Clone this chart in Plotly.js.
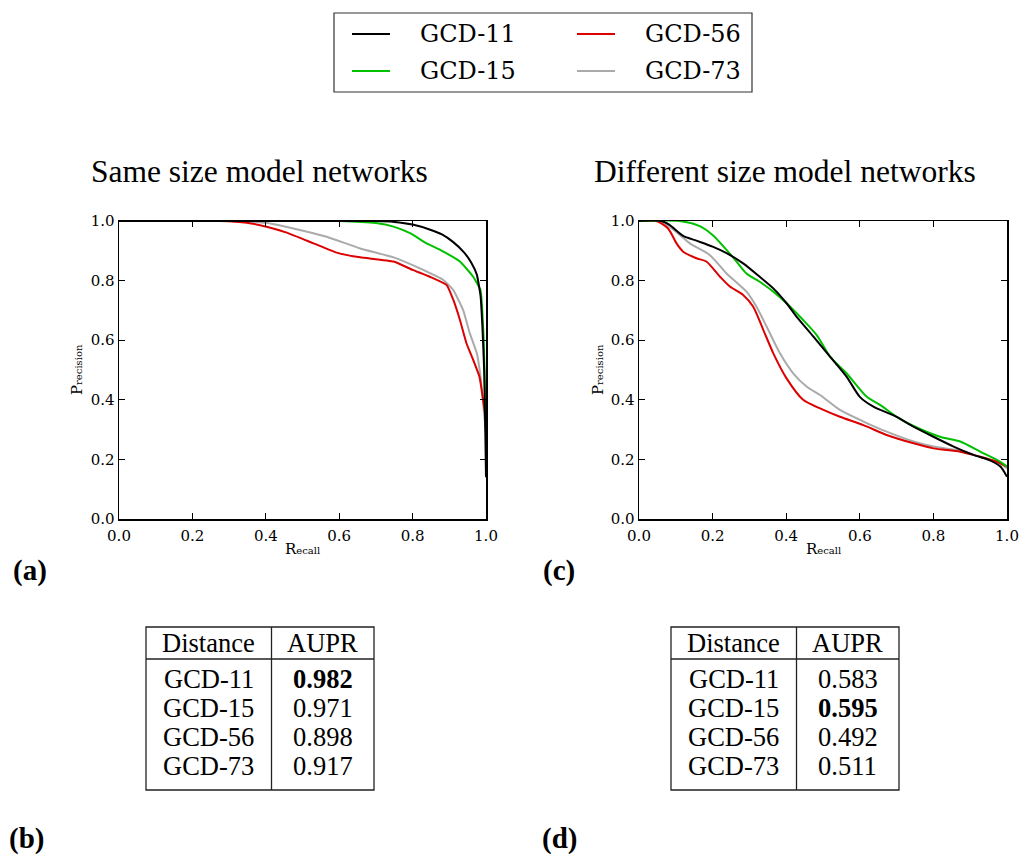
<!DOCTYPE html>
<html>
<head>
<meta charset="utf-8">
<script src="https://cdn.plot.ly/plotly-3.0.1.min.js"></script>
<style>html,body{margin:0;padding:0;background:#fff;}</style>
</head>
<body>
<div id="chart" style="width:1019px;height:860px;"></div>
<script>
// Series names and colours
const seriesNames = ['GCD-11', 'GCD-15', 'GCD-56', 'GCD-73'];
const seriesColors = ['#000000', '#00c000', '#dd0000', '#aaaaaa'];

// Precision-recall curves, same size model networks
const sameR11 = [0, 0.70, 0.75, 0.80, 0.85, 0.88, 0.91, 0.94, 0.96, 0.975, 0.985, 0.99, 0.995, 0.998, 1.0];
const sameP11 = [1, 1.0, 0.997, 0.988, 0.970, 0.955, 0.93, 0.895, 0.86, 0.82, 0.75, 0.65, 0.5, 0.3, 0.14];
const sameR15 = [0, 0.60, 0.70, 0.748, 0.793, 0.838, 0.875, 0.929, 0.965, 0.985, 0.993, 0.997, 1.0];
const sameP15 = [1, 1.0, 0.993, 0.981, 0.959, 0.925, 0.903, 0.864, 0.813, 0.768, 0.623, 0.45, 0.3];
const sameR56 = [0, 0.275, 0.348, 0.402, 0.457, 0.53, 0.593, 0.657, 0.748, 0.80, 0.847, 0.893, 0.911, 0.929, 0.947, 0.965, 0.982, 0.991, 0.997, 1.0];
const sameP56 = [1, 1.0, 0.994, 0.981, 0.961, 0.925, 0.894, 0.878, 0.864, 0.836, 0.813, 0.785, 0.735, 0.668, 0.589, 0.534, 0.478, 0.41, 0.355, 0.29];
const sameR73 = [0, 0.30, 0.40, 0.475, 0.566, 0.657, 0.748, 0.82, 0.884, 0.911, 0.938, 0.956, 0.975, 0.985, 0.993, 1.0];
const sameP73 = [1, 1.0, 0.994, 0.975, 0.947, 0.908, 0.878, 0.841, 0.802, 0.768, 0.70, 0.623, 0.556, 0.478, 0.377, 0.287];

// Precision-recall curves, different size model networks
const diffR11 = [0, 0.061, 0.083, 0.12, 0.156, 0.2, 0.238, 0.283, 0.328, 0.365, 0.401, 0.428, 0.474, 0.519, 0.564, 0.6, 0.637, 0.70, 0.746, 0.80, 0.855, 0.909, 0.955, 0.982, 1.0];
const diffP11 = [1, 1.0, 0.987, 0.95, 0.934, 0.914, 0.892, 0.858, 0.813, 0.774, 0.724, 0.679, 0.612, 0.545, 0.478, 0.41, 0.377, 0.343, 0.31, 0.276, 0.243, 0.215, 0.196, 0.176, 0.142];
const diffR15 = [0, 0.11, 0.165, 0.2, 0.238, 0.265, 0.292, 0.328, 0.365, 0.401, 0.446, 0.483, 0.519, 0.564, 0.619, 0.655, 0.70, 0.746, 0.818, 0.873, 0.927, 0.982, 1.0];
const diffP15 = [1, 1.0, 0.983, 0.953, 0.903, 0.864, 0.824, 0.796, 0.763, 0.724, 0.668, 0.617, 0.545, 0.489, 0.41, 0.383, 0.343, 0.312, 0.276, 0.26, 0.226, 0.192, 0.176];
const diffR56 = [0, 0.047, 0.079, 0.102, 0.12, 0.156, 0.183, 0.22, 0.247, 0.283, 0.31, 0.338, 0.365, 0.401, 0.446, 0.492, 0.546, 0.61, 0.673, 0.746, 0.80, 0.873, 0.927, 0.973, 1.0];
const diffP56 = [1, 1.0, 0.975, 0.925, 0.897, 0.875, 0.864, 0.813, 0.78, 0.752, 0.713, 0.634, 0.556, 0.472, 0.4, 0.371, 0.343, 0.315, 0.282, 0.254, 0.237, 0.226, 0.209, 0.192, 0.176];
const diffR73 = [0, 0.056, 0.083, 0.111, 0.138, 0.192, 0.238, 0.292, 0.319, 0.347, 0.383, 0.419, 0.456, 0.492, 0.546, 0.61, 0.673, 0.746, 0.80, 0.873, 0.927, 0.973, 1.0];
const diffP73 = [1, 1.0, 0.981, 0.953, 0.925, 0.886, 0.824, 0.763, 0.713, 0.645, 0.556, 0.489, 0.444, 0.416, 0.366, 0.327, 0.293, 0.26, 0.243, 0.229, 0.209, 0.192, 0.17];

// Area under the precision-recall curve
const tableHeader = ['Distance', 'AUPR'];
const auprSame = [0.982, 0.971, 0.898, 0.917];
const auprDiff = [0.583, 0.595, 0.492, 0.511];

// Axis ticks
const tickVals = [0, 0.2, 0.4, 0.6, 0.8, 1.0];
const tickText = ['0.0', '0.2', '0.4', '0.6', '0.8', '1.0'];

// Panel labels and titles
const panelTitles = ['Same size model networks', 'Different size model networks'];
const panelLabels = ['(a)', '(b)', '(c)', '(d)'];

const W = 1019, H = 860;
const px = x => x / W;
const py = y => 1 - y / H;

const TIMES = "'Liberation Serif', 'Times New Roman', Times, serif";
const CMLIKE = "'DejaVu Serif', serif";

const sameCurves = [[sameR11, sameP11], [sameR15, sameP15], [sameR56, sameP56], [sameR73, sameP73]];
const diffCurves = [[diffR11, diffP11], [diffR15, diffP15], [diffR56, diffP56], [diffR73, diffP73]];
// draw order: grey and red underneath, then green and black
const drawOrder = [3, 2, 1, 0];

const traces = [];
drawOrder.forEach(i => {
  traces.push({x: sameCurves[i][0], y: sameCurves[i][1], xaxis: 'x', yaxis: 'y', mode: 'lines',
    name: seriesNames[i], line: {color: seriesColors[i], width: 2, shape: 'spline', smoothing: 0.4},
    showlegend: false, hoverinfo: 'skip', cliponaxis: true});
});
drawOrder.forEach(i => {
  traces.push({x: diffCurves[i][0], y: diffCurves[i][1], xaxis: 'x2', yaxis: 'y2', mode: 'lines',
    name: seriesNames[i], line: {color: seriesColors[i], width: 2, shape: 'spline', smoothing: 0.7},
    showlegend: false, hoverinfo: 'skip', cliponaxis: true});
});

const tickFont = {family: CMLIKE, size: 15, color: '#000'};
function axis(domain, anchor) {
  return {
    domain: domain, anchor: anchor, range: [0, 1], autorange: false,
    tickmode: 'array', tickvals: tickVals, ticktext: tickText,
    ticks: 'inside', ticklen: 6, tickwidth: 1, tickcolor: '#000',
    showline: true, linecolor: '#000', linewidth: 1.5, mirror: 'allticks',
    showgrid: false, zeroline: false, tickfont: tickFont, fixedrange: true
  };
}

const yDom = [py(519), py(221)];
const layout = {
  width: W, height: H,
  margin: {l: 0, r: 0, t: 0, b: 0},
  paper_bgcolor: '#fff', plot_bgcolor: '#fff',
  showlegend: false,
  font: {family: CMLIKE, color: '#000'},
  xaxis: axis([px(119), px(486)], 'y'),
  yaxis: axis(yDom, 'x'),
  xaxis2: axis([px(639), px(1007)], 'y2'),
  yaxis2: axis(yDom, 'x2'),
  shapes: [], annotations: []
};
layout.xaxis.ticklabelstandoff = 2;
layout.xaxis2.ticklabelstandoff = 2;

const ann = (text, x, y, opts) => Object.assign({
  text: text, x: px(x), y: py(y), xref: 'paper', yref: 'paper',
  showarrow: false, xanchor: 'center', yanchor: 'middle'
}, opts || {});

// Panel titles
const titleFont = {family: TIMES, size: 31.5, color: '#000'};
layout.annotations.push(ann(panelTitles[0], 89, 172, {xanchor: 'left', font: titleFont}));
layout.annotations.push(ann(panelTitles[1], 592, 172, {xanchor: 'left', font: titleFont}));

// Axis titles (small-caps style)
const recallText = 'R<span style="font-size:10px">ecall</span>';
const precText = 'P<span style="font-size:10px">recision</span>';
const labFont = {family: CMLIKE, size: 15, color: '#000'};
[[302.5, 77], [823, 598]].forEach(([cx, yx]) => {
  layout.annotations.push(ann(recallText, cx, 549, {font: labFont}));
  layout.annotations.push(ann(precText, yx, 370, {font: labFont, textangle: -90}));
});

// Panel letters
const letterFont = {family: TIMES, size: 29, color: '#000', weight: 'bold'};
[[11, 570], [7, 838], [541, 570], [540, 838]].forEach(([x, y], i) => {
  layout.annotations.push(ann('<b>' + panelLabels[i] + '</b>', x, y, {xanchor: 'left', font: letterFont}));
});

// Legend box
const legFont = {family: CMLIKE, size: 24, color: '#000'};
layout.shapes.push({type: 'rect', xref: 'paper', yref: 'paper', x0: px(334), x1: px(752), y0: py(13), y1: py(92),
  line: {color: '#333', width: 1.2}, fillcolor: 'rgba(0,0,0,0)'});
const legendSlots = [[352, 34], [352, 71], [577, 34], [577, 71]];
seriesNames.forEach((name, i) => {
  const [lx, ly] = legendSlots[i];
  layout.shapes.push({type: 'line', xref: 'paper', yref: 'paper', x0: px(lx), x1: px(lx + 38), y0: py(ly), y1: py(ly),
    line: {color: seriesColors[i], width: 2}});
  layout.annotations.push(ann(name, lx + 66, ly, {xanchor: 'left', font: legFont}));
});

// AUPR tables
const tabFont = {family: TIMES, size: 26.5, color: '#000'};
function addTable(left, values) {
  const right = left + 228, mid = left + 125.5, top = 627, bottom = 790, sep = 659;
  const lineStyle = {color: '#222', width: 1.3};
  layout.shapes.push({type: 'rect', xref: 'paper', yref: 'paper', x0: px(left), x1: px(right), y0: py(bottom), y1: py(top),
    line: lineStyle, fillcolor: 'rgba(0,0,0,0)'});
  layout.shapes.push({type: 'line', xref: 'paper', yref: 'paper', x0: px(mid), x1: px(mid), y0: py(bottom), y1: py(top), line: lineStyle});
  layout.shapes.push({type: 'line', xref: 'paper', yref: 'paper', x0: px(left), x1: px(right), y0: py(sep), y1: py(sep), line: lineStyle});
  const c1 = (left + mid) / 2, c2 = (mid + right) / 2;
  layout.annotations.push(ann(tableHeader[0], c1, 643, {font: tabFont}));
  layout.annotations.push(ann(tableHeader[1], c2, 643, {font: tabFont}));
  const best = Math.max(...values);
  const rowY = [679, 708, 737, 766];
  seriesNames.forEach((name, i) => {
    const v = values[i].toFixed(3);
    layout.annotations.push(ann(name, c1, rowY[i], {font: tabFont}));
    layout.annotations.push(ann(values[i] === best ? '<b>' + v + '</b>' : v, c2, rowY[i], {font: tabFont}));
  });
}
addTable(146, auprSame);
addTable(671, auprDiff);

Plotly.newPlot('chart', traces, layout, {staticPlot: true, displayModeBar: false});
</script>
</body>
</html>
